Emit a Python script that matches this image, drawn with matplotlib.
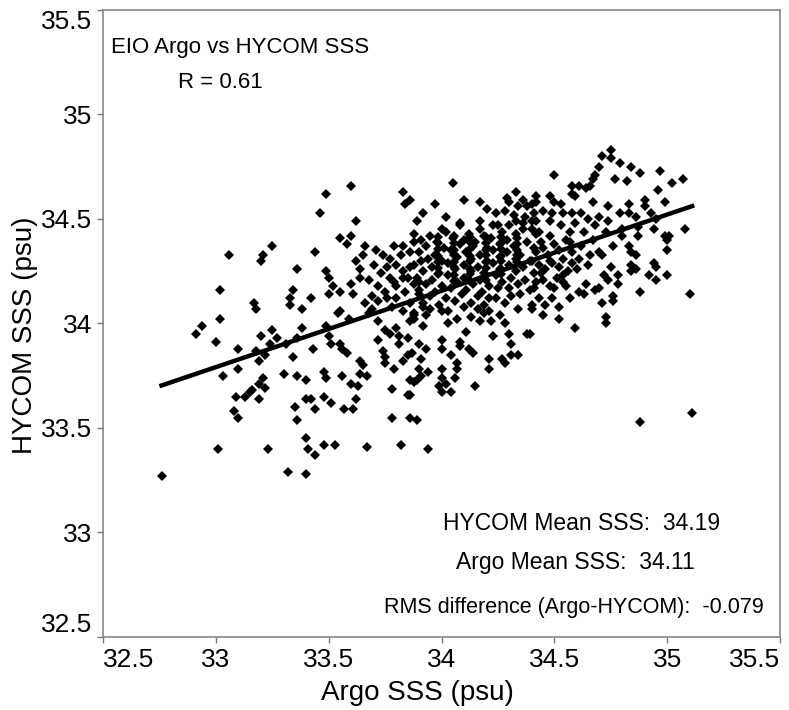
import matplotlib
matplotlib.use("Agg")
import matplotlib.pyplot as plt
from matplotlib import font_manager

# ---------------- data ----------------
argo_sss = [
    # left / upper-left group
    33.06, 33.21, 33.25, 33.20, 33.36, 33.02, 33.34, 33.33, 33.33, 33.17, 33.18,
    33.02, 32.94, 32.91, 33.00, 33.25, 33.20, 33.27, 33.10, 33.18, 33.22, 33.19,
    33.24, 33.31, 33.34, 33.36, 33.10, 33.03, 33.30, 33.36, 33.21, 33.19, 33.22,
    33.16, 33.15, 33.13, 33.09, 33.19, 33.08, 33.10, 33.35, 33.36, 33.01, 33.23,
    32.76, 33.32,
    # 33.4 - 33.9 upper
    33.60, 33.49, 33.83, 33.84, 33.46, 33.62, 33.89, 33.55, 33.60, 33.58, 33.44,
    33.66, 33.71, 33.74, 33.65, 33.79, 33.83, 33.88, 33.82, 33.86, 33.77, 33.62,
    33.49, 33.64, 33.64, 33.68, 33.50, 33.52, 33.73, 33.77, 33.83, 33.83, 33.60,
    33.55, 33.50, 33.61, 33.42, 33.38, 33.55, 33.69, 33.72,
    33.80, 33.84, 33.88, 33.80, 33.86, 33.90, 33.83, 33.88, 33.78, 33.75, 33.72,
    # 33.4 - 33.9 lower
    33.54, 33.69, 33.38, 33.49, 33.59, 33.50, 33.51, 33.55, 33.56, 33.58, 33.43,
    33.64, 33.65, 33.72, 33.75, 33.77, 33.72, 33.74, 33.75, 33.75, 33.80, 33.81,
    33.81, 33.85, 33.83, 33.85, 33.79, 33.86, 33.88, 33.40, 33.48, 33.49, 33.56,
    33.64, 33.67, 33.60, 33.63, 33.62, 33.40, 33.42, 33.48, 33.51, 33.44, 33.57,
    33.61, 33.78, 33.85, 33.86, 33.89, 33.78, 33.86, 33.89, 33.40, 33.41, 33.44,
    33.48, 33.53, 33.67, 33.82, 33.40,
    # 33.9 - 34.4 upper
    34.05, 33.86, 33.97, 34.10, 34.17, 33.92, 34.02, 34.08, 34.17, 34.20, 34.24,
    34.29, 34.33, 34.30, 34.36, 34.34, 34.28, 34.32, 34.38, 34.42, 34.41, 34.37,
    34.33, 34.36, 34.40, 34.25, 34.00, 34.17,
    # 33.9 - 34.4 middle
    33.88, 33.92, 34.00, 34.07, 34.11, 34.17, 34.23, 34.30, 34.38, 33.90, 34.00,
    34.08, 34.24, 34.28, 34.34, 34.40, 34.30, 34.35, 34.42, 34.40, 34.36, 34.30,
    34.23, 34.08,
    # dense core
    33.88, 33.95, 34.02, 34.12, 34.19, 34.27, 34.33,
    33.91, 33.98, 34.05, 34.10, 34.15, 34.22, 34.29, 34.38,
    33.93, 34.01, 34.08, 34.14, 34.20, 34.26, 34.32, 34.41,
    33.90, 33.97, 34.04, 34.11, 34.17, 34.23, 34.29, 34.35,
    33.94, 34.00, 34.07, 34.13, 34.20, 34.26, 34.33, 34.39,
    33.88, 33.96, 34.03, 34.10, 34.16, 34.23, 34.30, 34.36,
    33.92, 33.99, 34.06, 34.13, 34.19, 34.26, 34.33, 34.41,
    33.89, 33.96, 34.03, 34.10, 34.17, 34.24, 34.31, 34.37,
    33.93, 34.00, 34.07, 34.14, 34.21, 34.27, 34.34,
    33.90, 33.97, 34.04, 34.11, 34.18, 34.25, 34.39,
    33.95, 34.02, 34.09, 34.16, 34.21, 34.31,
    33.92, 33.99, 34.06, 34.13, 34.19,
    33.95, 34.03, 34.10, 34.16, 34.21,
    33.93, 34.13, 34.19, 34.26,
    34.03, 34.22, 34.28,
    # dense core, second pass
    33.985, 34.055, 34.125, 34.195, 34.265, 34.335,
    33.985, 34.055, 34.125, 34.195, 34.265, 34.335,
    33.985, 34.055, 34.125, 34.195, 34.265, 34.335,
    33.985, 34.055, 34.125, 34.195, 34.265, 34.335,
    33.985, 34.055, 34.125, 34.195, 34.265, 34.335,
    33.985, 34.055, 34.125, 34.195, 34.265,
    33.985, 34.055, 34.125, 34.195, 34.265,
    34.055, 34.125, 34.195,
    33.76, 33.80, 33.86, 33.91, 33.79, 33.85, 33.76, 33.92, 33.90, 33.70, 33.68,
    33.66,
    34.45, 34.48, 34.55, 34.58, 34.46, 34.51, 34.40, 34.42,
    # 33.9 - 34.4 lower
    33.93, 34.00, 34.04, 34.08, 34.12, 34.14, 33.87, 33.91, 33.90, 33.91, 34.00,
    34.00, 33.99, 34.02, 34.04, 34.00, 34.07, 34.07, 34.06, 33.94, 33.88, 33.86,
    34.15, 34.21, 34.21, 34.27, 34.28, 34.31, 34.34, 34.31, 33.94,
    # right upper
    34.75, 34.71, 34.75, 34.79, 34.70, 34.68, 34.67, 34.84, 34.88, 34.97, 34.77,
    34.82, 34.50, 35.07, 35.02, 34.96, 34.58, 34.61, 34.64, 34.58, 34.59, 34.66,
    34.42, 34.48, 34.50, 34.53, 34.67, 34.74, 34.83, 34.90, 34.90, 34.99, 35.08,
    34.40, 34.45, 34.49, 34.54, 34.58, 34.62, 34.65, 34.70, 34.79, 34.83, 34.86,
    34.93, 34.95, 34.42, 34.48, 34.53, 34.59, 34.68, 34.74, 34.80, 34.87, 34.94,
    35.01, 34.43, 34.48, 34.57, 34.63, 34.73, 34.80,
    # right middle
    34.87, 34.99, 35.00, 35.00, 34.83, 34.84, 34.86, 34.84, 34.86, 34.84, 34.94,
    34.95, 34.92, 34.95, 35.00, 35.10, 34.88, 34.75, 34.72, 34.74, 34.78, 34.78,
    34.70, 34.68, 34.64, 34.61, 34.63, 34.76, 34.76, 34.71, 34.57, 34.73, 34.73,
    34.59, 34.52, 34.52, 34.46, 34.45, 34.40, 34.39, 34.65, 34.76, 34.70, 34.71,
    34.54, 34.49, 34.58, 34.45, 34.48, 34.50, 34.54, 34.49, 34.55, 34.56, 34.54,
    34.44, 34.50, 34.57, 34.62, 34.67, 34.42, 34.47, 34.52, 34.61, 34.66, 34.43,
    34.52, 34.60, 34.44, 34.41, 34.43,
    # right lower
    34.88, 35.11,
]

hycom_sss = [
    # left / upper-left group
    34.33, 34.33, 34.37, 34.30, 34.26, 34.16, 34.16, 34.12, 34.09, 34.10, 34.07,
    34.02, 33.99, 33.95, 33.91, 33.97, 33.94, 33.93, 33.88, 33.87, 33.85, 33.82,
    33.90, 33.90, 33.84, 33.93, 33.78, 33.75, 33.76, 33.75, 33.74, 33.71, 33.69,
    33.68, 33.67, 33.65, 33.65, 33.64, 33.58, 33.55, 33.60, 33.54, 33.40, 33.40,
    33.27, 33.29,
    # 33.4 - 33.9 upper
    34.66, 34.62, 34.63, 34.57, 34.53, 34.49, 34.49, 34.41, 34.42, 34.38, 34.34,
    34.37, 34.35, 34.33, 34.33, 34.37, 34.37, 34.39, 34.33, 34.34, 34.31, 34.30,
    34.25, 34.26, 34.22, 34.21, 34.22, 34.18, 34.24, 34.22, 34.25, 34.22, 34.19,
    34.15, 34.14, 34.14, 34.12, 34.07, 34.06, 34.13, 34.11,
    34.18, 34.15, 34.19, 34.12, 34.10, 34.14, 34.06, 34.05, 34.08, 34.15, 34.18,
    # 33.4 - 33.9 lower
    34.05, 34.07, 33.98, 33.99, 34.02, 33.94, 33.90, 33.90, 33.88, 33.86, 33.88,
    33.82, 33.80, 34.01, 33.97, 33.95, 33.92, 33.87, 33.84, 33.81, 33.98, 33.90,
    33.94, 33.93, 33.82, 33.85, 33.78, 34.01, 34.04, 33.73, 33.77, 33.74, 33.75,
    33.76, 33.75, 33.71, 33.70, 33.64, 33.64, 33.64, 33.65, 33.62, 33.59, 33.59,
    33.59, 33.685, 33.66, 33.73, 33.73, 33.55, 33.55, 33.54, 33.45, 33.40, 33.37,
    33.42, 33.42, 33.41, 33.42, 33.28,
    # 33.9 - 34.4 upper
    34.67, 34.59, 34.57, 34.59, 34.58, 34.53, 34.51, 34.48, 34.49, 34.55, 34.53,
    34.60, 34.63, 34.58, 34.59, 34.56, 34.54, 34.52, 34.56, 34.58, 34.53, 34.51,
    34.49, 34.48, 34.49, 34.47, 34.45, 34.45,
    # 33.9 - 34.4 middle
    34.02, 33.99, 34.06, 34.02, 33.96, 34.01, 33.94, 33.95, 33.95, 33.90, 33.92,
    33.91, 34.12, 34.10, 34.07, 34.09, 34.17, 34.14, 34.20, 34.45, 34.45, 34.47,
    34.47, 34.47,
    # dense core
    34.43, 34.42, 34.44, 34.43, 34.42, 34.44, 34.43,
    34.40, 34.39, 34.41, 34.40, 34.39, 34.41, 34.40, 34.39,
    34.37, 34.36, 34.38, 34.37, 34.36, 34.38, 34.37, 34.36,
    34.34, 34.33, 34.35, 34.34, 34.33, 34.35, 34.34, 34.33,
    34.31, 34.30, 34.32, 34.31, 34.30, 34.32, 34.31, 34.30,
    34.28, 34.27, 34.29, 34.28, 34.27, 34.29, 34.28, 34.27,
    34.25, 34.24, 34.26, 34.25, 34.24, 34.26, 34.25, 34.24,
    34.22, 34.21, 34.23, 34.22, 34.21, 34.23, 34.22, 34.21,
    34.19, 34.18, 34.20, 34.19, 34.18, 34.20, 34.19,
    34.16, 34.15, 34.17, 34.16, 34.15, 34.17, 34.16,
    34.13, 34.12, 34.14, 34.13, 34.12, 34.13,
    34.10, 34.09, 34.11, 34.10, 34.09,
    34.07, 34.06, 34.08, 34.07, 34.06,
    34.04, 34.03, 34.05, 34.04,
    34.00, 34.01, 34.00,
    # dense core, second pass
    34.415, 34.418, 34.412, 34.416, 34.414, 34.410,
    34.385, 34.383, 34.388, 34.384, 34.386, 34.382,
    34.355, 34.352, 34.357, 34.353, 34.356, 34.351,
    34.325, 34.327, 34.322, 34.326, 34.323, 34.328,
    34.295, 34.292, 34.297, 34.294, 34.298, 34.293,
    34.265, 34.268, 34.263, 34.267, 34.262,
    34.235, 34.232, 34.238, 34.234, 34.236,
    34.205, 34.202, 34.207,
    34.27, 34.28, 34.27, 34.30, 34.20, 34.22, 34.12, 34.08, 34.20, 34.28, 34.05,
    34.10,
    34.36, 34.30, 34.40, 34.29, 34.26, 34.22, 34.30, 34.43,
    # 33.9 - 34.4 lower
    33.88, 33.88, 33.85, 33.89, 33.88, 33.86, 33.86, 33.83, 33.78, 33.75, 33.78,
    33.74, 33.70, 33.71, 33.67, 33.67, 33.81, 33.78, 33.74, 33.77, 33.72, 33.66,
    33.70, 33.83, 33.78, 33.83, 33.81, 33.85, 33.85, 33.90, 33.40,
    # right upper
    34.83, 34.80, 34.79, 34.77, 34.75, 34.71, 34.69, 34.75, 34.72, 34.73, 34.69,
    34.68, 34.71, 34.69, 34.67, 34.64, 34.66, 34.66, 34.65, 34.62, 34.61, 34.66,
    34.61, 34.61, 34.58, 34.57, 34.58, 34.56, 34.57, 34.59, 34.56, 34.58, 34.45,
    34.57, 34.54, 34.53, 34.53, 34.53, 34.53, 34.50, 34.51, 34.53, 34.53, 34.51,
    34.53, 34.50, 34.49, 34.49, 34.47, 34.48, 34.47, 34.49, 34.45, 34.46, 34.45,
    34.42, 34.44, 34.42, 34.44, 34.44, 34.44, 34.42,
    # right middle
    34.42, 34.42, 34.40, 34.35, 34.37, 34.34, 34.33, 34.28, 34.26, 34.25, 34.29,
    34.27, 34.23, 34.21, 34.23, 34.14, 34.15, 34.27, 34.23, 34.21, 34.23, 34.19,
    34.17, 34.16, 34.19, 34.15, 34.14, 34.13, 34.11, 34.10, 34.12, 34.03, 34.00,
    33.98, 34.02, 34.08, 34.09, 34.04, 34.07, 33.95, 34.28, 34.37, 34.34, 34.33,
    34.31, 34.29, 34.34, 34.21, 34.18, 34.17, 34.20, 34.12, 34.18, 34.25, 34.23,
    34.39, 34.38, 34.39, 34.37, 34.40, 34.34, 34.33, 34.35, 34.31, 34.33, 34.28,
    34.27, 34.26, 34.24, 34.17, 34.12,
    # right lower
    33.53, 33.57,
]

fit_x = [32.75, 35.12]
fit_y = [33.70, 34.565]

x_ticks = [32.5, 33, 33.5, 34, 34.5, 35, 35.5]
y_ticks = [32.5, 33, 33.5, 34, 34.5, 35, 35.5]
x_tick_labels = ["32.5", "33", "33.5", "34", "34.5", "35", "35.5"]
y_tick_labels = ["32.5", "33", "33.5", "34", "34.5", "35", "35.5"]

title_lines = ["EIO Argo vs HYCOM SSS", "R = 0.61"]
stats_lines = ["HYCOM Mean SSS:  34.19", "Argo Mean SSS:  34.11",
               "RMS difference (Argo-HYCOM):  -0.079"]

# ---------------- fonts ----------------
avail = {f.name for f in font_manager.fontManager.ttflist}
fam = ["Liberation Sans Narrow"] if "Liberation Sans Narrow" in avail else ["Liberation Sans"]
plt.rcParams["font.family"] = fam + ["DejaVu Sans"]

# ---------------- figure ----------------
fig = plt.figure(figsize=(7.89, 7.10), dpi=100)
ax = fig.add_axes([103 / 789, 73 / 710, 677 / 789, 627 / 710])

ax.plot(argo_sss, hycom_sss, linestyle="none", marker="D", markersize=4.8,
        color="black", markeredgewidth=0)
ax.plot(fit_x, fit_y, color="black", linewidth=3.2, solid_capstyle="butt")

ax.set_xlim(32.5, 35.5)
ax.set_ylim(32.5, 35.5)
ax.set_xticks(x_ticks)
ax.set_yticks(y_ticks)
ax.set_xticklabels(x_tick_labels, fontsize=19)
ax.set_yticklabels(y_tick_labels, fontsize=19)
xl = ax.get_xticklabels()
xl[0].set_ha("left")
xl[-1].set_ha("right")
yl = ax.get_yticklabels()
yl[0].set_va("bottom")
yl[-1].set_va("top")

ax.tick_params(direction="out", length=4, width=1, color="#777777", pad=4)
for s in ax.spines.values():
    s.set_color("#888888")
    s.set_linewidth(1.2)

ax.set_xlabel("Argo SSS (psu)", fontsize=20)
ax.xaxis.set_label_coords((417 - 103) / 677, -0.068)
ax.set_ylabel("HYCOM SSS (psu)", fontsize=20)
ax.yaxis.set_label_coords((38 - 103) / 677, (637 - 335) / 627)

fig.text(240 / 789, 1 - 47 / 710, title_lines[0], ha="center", va="center", fontsize=16)
fig.text(220 / 789, 1 - 82 / 710, title_lines[1], ha="center", va="center", fontsize=16)

fig.text(582 / 789, 1 - 523 / 710, stats_lines[0], ha="center", va="center", fontsize=16.5)
fig.text(575 / 789, 1 - 563 / 710, stats_lines[1], ha="center", va="center", fontsize=16.5)
fig.text(574 / 789, 1 - 607 / 710, stats_lines[2], ha="center", va="center", fontsize=15.5)

fig.savefig("out.png", dpi=100)
